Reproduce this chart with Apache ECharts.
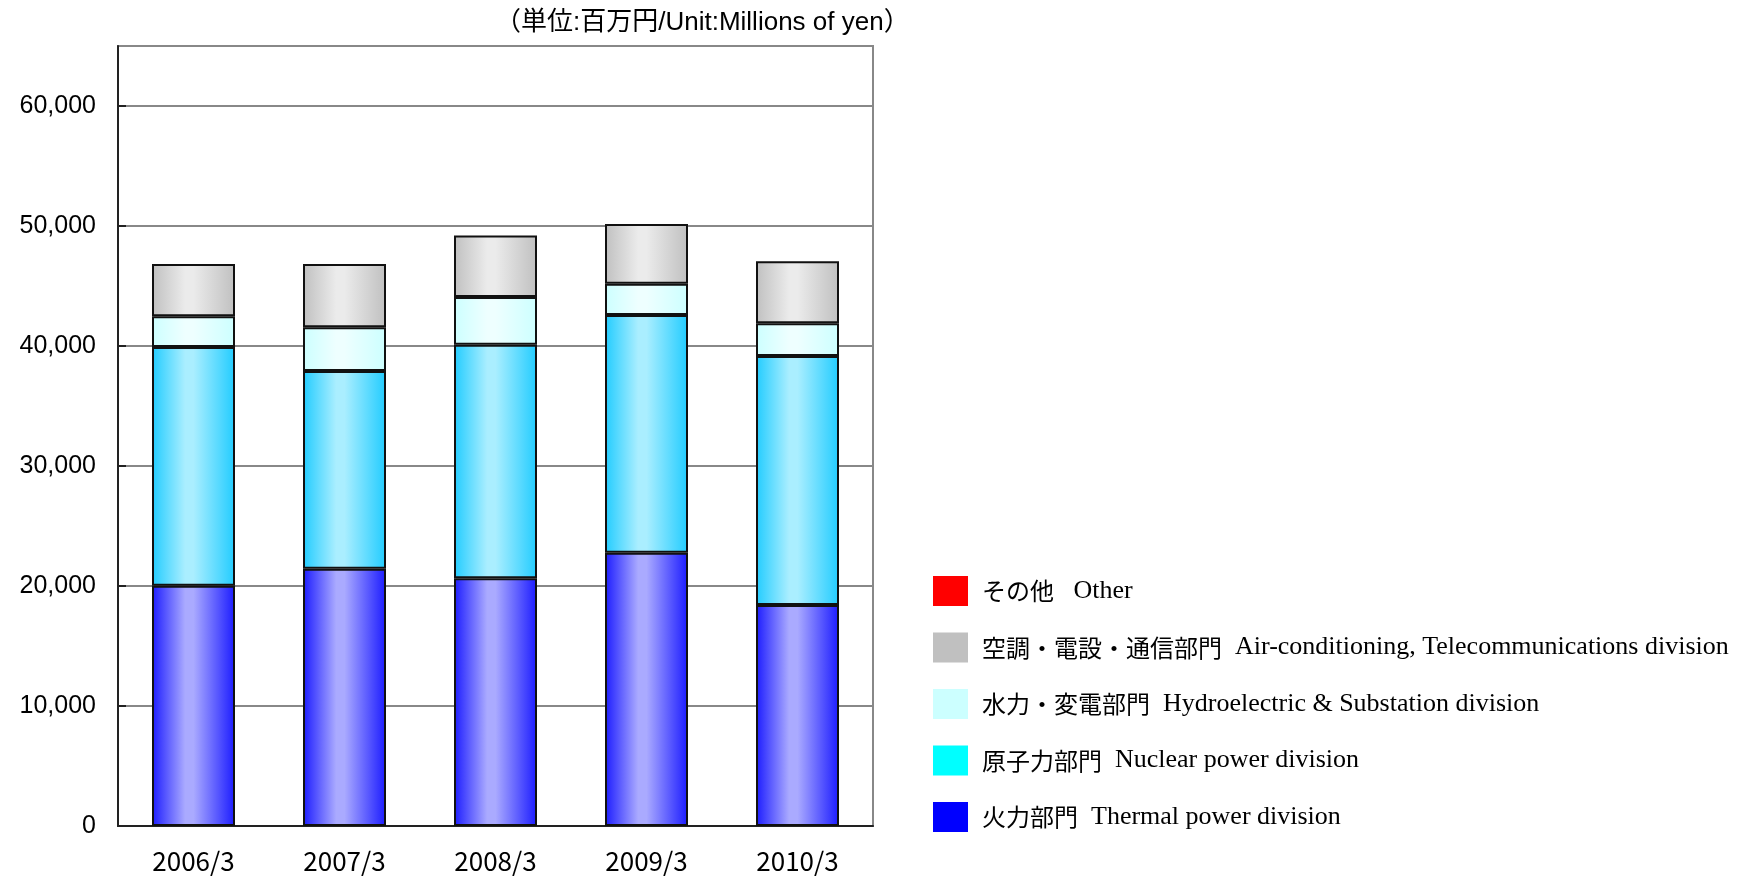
<!DOCTYPE html>
<html>
<head>
<meta charset="utf-8">
<script src="https://cdn.jsdelivr.net/npm/echarts@6/dist/echarts.min.js"></script>
<style>
html,body{margin:0;padding:0;background:#fff;}
#c{width:1744px;height:878px;}
</style>
</head>
<body>
<div id="c"></div>
<script>
const categories = ['2006/3', '2007/3', '2008/3', '2009/3', '2010/3'];
const thermal = [20030, 21440, 20640, 22770, 18420];
const nuclear = [19890, 16480, 19470, 19810, 20750];
const hydro = [2560, 3640, 3980, 2610, 2720];
const aircon = [4360, 5280, 5110, 4980, 5170];
const other = [0, 0, 0, 0, 0];
const yTickValues = [0, 10000, 20000, 30000, 40000, 50000, 60000];
const seriesNames = [
  '火力部門  Thermal power division',
  '原子力部門  Nuclear power division',
  '水力・変電部門  Hydroelectric & Substation division',
  '空調・電設・通信部門  Air-conditioning, Telecommunications division',
  'その他   Other'
];
const titleText = '（単位:百万円/Unit:Millions of yen）';

function grad(edge, center) {
  return new echarts.graphic.LinearGradient(0, 0, 1, 0, [
    {offset: 0, color: edge},
    {offset: 0.4, color: center},
    {offset: 0.5, color: center},
    {offset: 1, color: edge}
  ]);
}
const barStyle = (c) => ({color: c, borderColor: '#111', borderWidth: 2});

function legendFmt(name) {
  const i = name.search(/[A-Za-z]/);
  const jp = name.slice(0, i).replace(/\s+$/, '');
  const sp = name.slice(jp.length, i);
  return '{j|' + jp + '}{e|' + sp + name.slice(i) + '}';
}

const chart = echarts.init(document.getElementById('c'));
chart.setOption({
  animation: false,
  backgroundColor: '#fff',
  title: {
    text: titleText,
    left: 490, top: 5,
    textStyle: {fontFamily: "'Liberation Sans', 'Noto Sans CJK JP'", fontSize: 26, fontWeight: 'normal', color: '#000'}
  },
  grid: {left: 118, right: 871, top: 46, bottom: 52, show: true, borderColor: '#888', borderWidth: 2, containLabel: false},
  legend: {
    orient: 'vertical', left: 928, top: 571,
    icon: 'rect',
    itemWidth: 35, itemHeight: 30, itemGap: 26.5,
    selectedMode: false,
    formatter: legendFmt,
    textStyle: {
      color: '#000', padding: [0, 0, 0, 9],
      rich: {
        j: {fontFamily: "'Noto Sans CJK JP'", fontSize: 24, color: '#000'},
        e: {fontFamily: "'Liberation Serif'", fontSize: 26, color: '#000'}
      }
    },
    data: [
      {name: seriesNames[4], itemStyle: {color: '#FF0000', borderWidth: 0}},
      {name: seriesNames[3], itemStyle: {color: '#C0C0C0', borderWidth: 0}},
      {name: seriesNames[2], itemStyle: {color: '#CCFFFF', borderWidth: 0}},
      {name: seriesNames[1], itemStyle: {color: '#00FFFF', borderWidth: 0}},
      {name: seriesNames[0], itemStyle: {color: '#0000FF', borderWidth: 0}}
    ]
  },
  xAxis: {
    type: 'category', data: categories,
    axisLine: {lineStyle: {color: '#222', width: 2}},
    axisTick: {inside: true, length: 9, lineStyle: {color: '#222', width: 1.5}},
    axisLabel: {fontFamily: "'Noto Sans CJK JP'", fontSize: 26, color: '#000', margin: 22}
  },
  yAxis: {
    type: 'value', min: 0, max: 65000, interval: 10000,
    axisLine: {show: true, lineStyle: {color: '#222', width: 2}},
    axisTick: {show: true, inside: true, length: 8, customValues: yTickValues, lineStyle: {color: '#222', width: 2}},
    splitLine: {lineStyle: {color: '#888', width: 2}},
    axisLabel: {
      fontFamily: "'Liberation Sans', Arial", fontSize: 25, color: '#000', margin: 22,
      customValues: yTickValues,
      formatter: v => (v > 60000 ? '' : v.toLocaleString('en-US'))
    }
  },
  series: [
    {name: seriesNames[0], type: 'bar', stack: 's', data: thermal, barWidth: 83, itemStyle: barStyle(grad('#1c1cff', '#aaaaff'))},
    {name: seriesNames[1], type: 'bar', stack: 's', data: nuclear, barWidth: 83, itemStyle: barStyle(grad('#22ccff', '#aaeeff'))},
    {name: seriesNames[2], type: 'bar', stack: 's', data: hydro, barWidth: 83, itemStyle: barStyle(grad('#ccffff', '#eeffff'))},
    {name: seriesNames[3], type: 'bar', stack: 's', data: aircon, barWidth: 83, itemStyle: barStyle(grad('#c0c0c0', '#ebebeb'))},
    {name: seriesNames[4], type: 'bar', stack: 's', data: other, barWidth: 83, itemStyle: {color: '#FF0000', borderWidth: 0}}
  ]
});
</script>
</body>
</html>
